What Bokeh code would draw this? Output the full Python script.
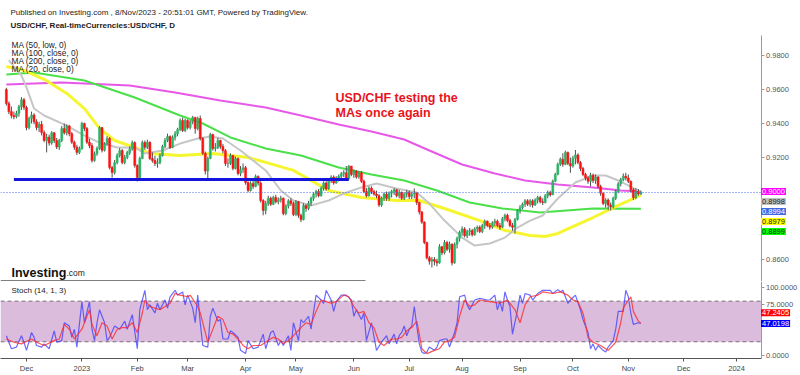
import pandas as pd
from bokeh.plotting import figure
from bokeh.models import (Range1d, FixedTicker, PrintfTickFormatter, Label, LinearAxis,
                          BoxAnnotation)
from bokeh.layouts import column
from bokeh.embed import file_html
from bokeh.resources import INLINE

# ---------------- data ----------------
start_date = "2022-11-21"
axis_end_date = "2024-01-31"
first_open = 0.9600

close = [
    0.9518, 0.9470, 0.9447, 0.9440, 0.9460, 0.9500, 0.9540, 0.9494, 0.9375, 0.9430,
    0.9450, 0.9410, 0.9376, 0.9395, 0.9347, 0.9300, 0.9320, 0.9285, 0.9345, 0.9300,
    0.9262, 0.9300, 0.9370, 0.9345, 0.9385, 0.9340, 0.9290, 0.9260, 0.9230, 0.9252,
    0.9400, 0.9370, 0.9290, 0.9270, 0.9182, 0.9222, 0.9253, 0.9376, 0.9242, 0.9280,
    0.9312, 0.9141, 0.9112, 0.9170, 0.9212, 0.9241, 0.9170, 0.9200, 0.9229, 0.9250,
    0.9288, 0.9153, 0.9082, 0.9194, 0.9288, 0.9260, 0.9290, 0.9194, 0.9182, 0.9165,
    0.9170, 0.9212, 0.9265, 0.9300, 0.9324, 0.9259, 0.9318, 0.9340, 0.9365, 0.9418,
    0.9359, 0.9418, 0.9376, 0.9410, 0.9435, 0.9370, 0.9430, 0.9312, 0.9225, 0.9120,
    0.9194, 0.9335, 0.9253, 0.9259, 0.9300, 0.9265, 0.9240, 0.9165, 0.9165, 0.9212,
    0.9135, 0.9194, 0.9106, 0.9130, 0.9140, 0.9053, 0.9006, 0.9047, 0.9030, 0.9088,
    0.9050, 0.8947, 0.8888, 0.8930, 0.8960, 0.8925, 0.8965, 0.8940, 0.8950, 0.8960,
    0.8870, 0.8915, 0.8945, 0.8930, 0.8865, 0.8940, 0.8860, 0.8835, 0.8918, 0.8900,
    0.8930, 0.8960, 0.8985, 0.9000, 0.8975, 0.9020, 0.9050, 0.9015, 0.9065, 0.9085,
    0.9050, 0.9080, 0.9090, 0.9105, 0.9110, 0.9075, 0.9150, 0.9100, 0.9120, 0.9085,
    0.9110, 0.9060, 0.9000, 0.8975, 0.9020, 0.9000, 0.8985, 0.8975, 0.8920, 0.8960,
    0.8985, 0.8960, 0.8990, 0.9000, 0.9010, 0.8975, 0.8995, 0.8960, 0.8985, 0.8995,
    0.8970, 0.8985, 0.8990, 0.8935, 0.8880, 0.8820, 0.8700, 0.8610, 0.8590, 0.8600,
    0.8590, 0.8580, 0.8675, 0.8640, 0.8700, 0.8660, 0.8690, 0.8580, 0.8690, 0.8725,
    0.8760, 0.8780, 0.8740, 0.8765, 0.8770, 0.8745, 0.8780, 0.8790, 0.8765, 0.8800,
    0.8825, 0.8800, 0.8790, 0.8815, 0.8825, 0.8800, 0.8790, 0.8840, 0.8860, 0.8830,
    0.8800, 0.8790, 0.8835, 0.8888, 0.8905, 0.8925, 0.8945, 0.8925, 0.8945, 0.8920,
    0.8950, 0.8965, 0.8940, 0.8935, 0.8975, 0.8995, 0.8980, 0.9060, 0.9100, 0.9160,
    0.9190, 0.9160, 0.9230, 0.9165, 0.9150, 0.9195, 0.9215, 0.9170, 0.9135, 0.9100,
    0.9080, 0.9060, 0.9095, 0.9065, 0.9085, 0.9030, 0.8990, 0.8930, 0.8950, 0.8920,
    0.8910, 0.8960, 0.9000, 0.9045, 0.9070, 0.9090, 0.9080, 0.9060, 0.9010, 0.8965,
    0.9000, 0.8985, 0.8994,
]
high = [
    0.9610, 0.9530, 0.9500, 0.9470, 0.9475, 0.9510, 0.9555, 0.9550, 0.9505, 0.9440,
    0.9470, 0.9460, 0.9425, 0.9410, 0.9415, 0.9360, 0.9340, 0.9335, 0.9355, 0.9350,
    0.9315, 0.9310, 0.9385, 0.9400, 0.9395, 0.9392, 0.9350, 0.9300, 0.9275, 0.9265,
    0.9410, 0.9405, 0.9380, 0.9310, 0.9285, 0.9235, 0.9265, 0.9385, 0.9380, 0.9290,
    0.9325, 0.9320, 0.9150, 0.9185, 0.9225, 0.9255, 0.9250, 0.9215, 0.9240, 0.9265,
    0.9300, 0.9295, 0.9160, 0.9205, 0.9300, 0.9300, 0.9305, 0.9295, 0.9230, 0.9210,
    0.9195, 0.9225, 0.9275, 0.9315, 0.9340, 0.9330, 0.9330, 0.9355, 0.9375, 0.9430,
    0.9435, 0.9428, 0.9425, 0.9420, 0.9445, 0.9440, 0.9440, 0.9447, 0.9320, 0.9235,
    0.9205, 0.9345, 0.9340, 0.9285, 0.9315, 0.9305, 0.9280, 0.9250, 0.9195, 0.9225,
    0.9215, 0.9205, 0.9200, 0.9150, 0.9165, 0.9150, 0.9060, 0.9060, 0.9070, 0.9100,
    0.9095, 0.9060, 0.8955, 0.8945, 0.8975, 0.8970, 0.8975, 0.8980, 0.8965, 0.8975,
    0.8965, 0.8925, 0.8955, 0.8960, 0.8940, 0.8950, 0.8945, 0.8870, 0.8930, 0.8925,
    0.8945, 0.8970, 0.8995, 0.9010, 0.9015, 0.9030, 0.9060, 0.9060, 0.9075, 0.9095,
    0.9095, 0.9090, 0.9100, 0.9115, 0.9125, 0.9150, 0.9155, 0.9150, 0.9130, 0.9125,
    0.9120, 0.9120, 0.9070, 0.9020, 0.9030, 0.9030, 0.9010, 0.9005, 0.8985, 0.8970,
    0.8995, 0.9000, 0.9000, 0.9010, 0.9020, 0.9015, 0.9010, 0.9000, 0.8995, 0.9010,
    0.9005, 0.8995, 0.9018, 0.8995, 0.8940, 0.8885, 0.8825, 0.8705, 0.8620, 0.8615,
    0.8615, 0.8605, 0.8690, 0.8680, 0.8715, 0.8710, 0.8705, 0.8695, 0.8700, 0.8735,
    0.8770, 0.8795, 0.8790, 0.8775, 0.8785, 0.8780, 0.8790, 0.8800, 0.8800, 0.8810,
    0.8835, 0.8830, 0.8815, 0.8825, 0.8840, 0.8835, 0.8815, 0.8850, 0.8870, 0.8870,
    0.8840, 0.8815, 0.8845, 0.8895, 0.8920, 0.8935, 0.8955, 0.8955, 0.8955, 0.8955,
    0.8960, 0.8975, 0.8975, 0.8960, 0.8985, 0.9005, 0.9005, 0.9070, 0.9110, 0.9170,
    0.9200, 0.9225, 0.9240, 0.9235, 0.9200, 0.9210, 0.9244, 0.9225, 0.9180, 0.9145,
    0.9110, 0.9090, 0.9110, 0.9105, 0.9100, 0.9090, 0.9040, 0.8995, 0.8960, 0.8960,
    0.8935, 0.8970, 0.9010, 0.9055, 0.9080, 0.9106, 0.9110, 0.9100, 0.9065, 0.9020,
    0.9020, 0.9015, 0.9005,
]
low = [
    0.9505, 0.9455, 0.9430, 0.9425, 0.9430, 0.9440, 0.9480, 0.9480, 0.9360, 0.9365,
    0.9400, 0.9395, 0.9360, 0.9350, 0.9330, 0.9290, 0.9230, 0.9270, 0.9275, 0.9285,
    0.9250, 0.9245, 0.9290, 0.9335, 0.9330, 0.9325, 0.9280, 0.9245, 0.9215, 0.9220,
    0.9245, 0.9355, 0.9280, 0.9255, 0.9170, 0.9175, 0.9210, 0.9245, 0.9230, 0.9235,
    0.9270, 0.9130, 0.9082, 0.9100, 0.9160, 0.9200, 0.9160, 0.9160, 0.9190, 0.9215,
    0.9240, 0.9140, 0.9059, 0.9075, 0.9190, 0.9245, 0.9250, 0.9185, 0.9170, 0.9150,
    0.9140, 0.9160, 0.9205, 0.9255, 0.9290, 0.9250, 0.9255, 0.9300, 0.9325, 0.9355,
    0.9350, 0.9350, 0.9365, 0.9365, 0.9395, 0.9340, 0.9360, 0.9300, 0.9215, 0.9100,
    0.9065, 0.9190, 0.9240, 0.9235, 0.9250, 0.9250, 0.9225, 0.9150, 0.9140, 0.9155,
    0.9125, 0.9130, 0.9095, 0.9090, 0.9110, 0.9040, 0.8995, 0.9000, 0.9015, 0.9025,
    0.9035, 0.8935, 0.8860, 0.8865, 0.8915, 0.8915, 0.8920, 0.8930, 0.8925, 0.8935,
    0.8860, 0.8860, 0.8900, 0.8915, 0.8855, 0.8855, 0.8845, 0.8820, 0.8830, 0.8880,
    0.8890, 0.8915, 0.8945, 0.8965, 0.8965, 0.8970, 0.9005, 0.9005, 0.9010, 0.9050,
    0.9040, 0.9045, 0.9060, 0.9075, 0.9085, 0.9065, 0.9070, 0.9090, 0.9080, 0.9075,
    0.9075, 0.9050, 0.8990, 0.8965, 0.8970, 0.8985, 0.8975, 0.8960, 0.8910, 0.8910,
    0.8945, 0.8945, 0.8945, 0.8965, 0.8980, 0.8965, 0.8960, 0.8950, 0.8950, 0.8965,
    0.8955, 0.8955, 0.8960, 0.8920, 0.8865, 0.8810, 0.8690, 0.8600, 0.8570, 0.8553,
    0.8565, 0.8560, 0.8575, 0.8625, 0.8630, 0.8650, 0.8640, 0.8565, 0.8575, 0.8665,
    0.8705, 0.8740, 0.8730, 0.8725, 0.8740, 0.8735, 0.8740, 0.8760, 0.8755, 0.8755,
    0.8780, 0.8790, 0.8775, 0.8780, 0.8795, 0.8790, 0.8775, 0.8785, 0.8825, 0.8820,
    0.8790, 0.8770, 0.8753, 0.8830, 0.8870, 0.8895, 0.8910, 0.8915, 0.8910, 0.8905,
    0.8915, 0.8930, 0.8930, 0.8920, 0.8930, 0.8960, 0.8970, 0.8980, 0.9055, 0.9095,
    0.9150, 0.9145, 0.9155, 0.9155, 0.9110, 0.9140, 0.9160, 0.9160, 0.9120, 0.9090,
    0.9065, 0.9045, 0.9030, 0.9050, 0.9045, 0.9020, 0.8975, 0.8920, 0.8905, 0.8890,
    0.8888, 0.8900, 0.8950, 0.8990, 0.9030, 0.9060, 0.9065, 0.9050, 0.8995, 0.8950,
    0.8955, 0.8975, 0.8980,
]

# moving averages, sampled along the drawn curves (trading-day number, value)
ma20_day = [1, 6, 8, 11, 15, 24, 31, 37, 44, 51, 55, 62, 69, 76, 81, 86, 93, 98, 103,
            109, 114, 121, 128, 134, 141, 147, 155, 163, 168, 174, 181, 186, 192, 198,
            203, 208, 213, 219, 226, 233, 238, 243, 252]
ma20 = [0.9771, 0.9682, 0.9612, 0.9488, 0.9447, 0.9388, 0.9329, 0.9288, 0.9259, 0.9259,
        0.9224, 0.9241, 0.9282, 0.9312, 0.9324, 0.9312, 0.9241, 0.9182, 0.9124, 0.9006,
        0.8947, 0.8918, 0.8947, 0.8988, 0.9024, 0.9047, 0.9018, 0.8994, 0.8929, 0.8829,
        0.8729, 0.8682, 0.8694, 0.8729, 0.8788, 0.8829, 0.8859, 0.8959, 0.9053, 0.9094,
        0.9094, 0.9065, 0.8998]
ma50_day = [0, 6, 15, 24, 31, 37, 43, 51, 57, 69, 82, 96, 103, 114, 121, 128, 141, 155,
            164, 174, 188, 198, 208, 214, 219, 233, 243, 252]
ma50 = [0.9735, 0.9718, 0.9660, 0.9577, 0.9488, 0.9371, 0.9300, 0.9259, 0.9224, 0.9212,
        0.9224, 0.9200, 0.9171, 0.9124, 0.9065, 0.9006, 0.8965, 0.8947, 0.8947, 0.8900,
        0.8829, 0.8771, 0.8741, 0.8735, 0.8753, 0.8847, 0.8918, 0.8979]
ma100_day = [0, 11, 31, 51, 69, 78, 89, 103, 117, 132, 145, 158, 171, 184, 197, 212, 233, 252]
ma100 = [0.9688, 0.9700, 0.9653, 0.9553, 0.9447, 0.9400, 0.9318, 0.9253, 0.9212, 0.9141,
         0.9100, 0.9065, 0.9006, 0.8935, 0.8900, 0.8876, 0.8900, 0.8899]
ma200_day = [0, 22, 49, 67, 85, 103, 117, 132, 145, 158, 168, 181, 194, 206, 219, 233, 244, 252]
ma200 = [0.9629, 0.9641, 0.9624, 0.9582, 0.9535, 0.9494, 0.9447, 0.9394, 0.9353, 0.9306,
         0.9241, 0.9159, 0.9106, 0.9065, 0.9041, 0.9024, 0.9006, 0.9000]

support_level = 0.9071
support_from = "2022-11-24"
support_to = "2023-05-30"

# stochastic (14, 1, 3): %K blue, %D red
stoch_k_day = [0, 2, 4, 6, 7, 8, 10, 11, 12, 14, 15, 17, 19, 20, 22, 23, 25, 26, 27, 28,
               30, 31, 33, 34, 35, 36, 37, 39, 40, 41, 43, 45, 47, 48, 50, 52, 53, 55, 56, 57,
               59, 60, 61, 63, 64, 65, 67, 68, 70, 71, 72, 74, 75, 76, 77, 78, 80, 81, 82, 84,
               85, 86, 88, 89, 90, 92, 93, 95, 96, 98, 100, 102, 103, 105, 106, 108, 109, 110,
               112, 113, 114, 116, 117, 118, 120, 121, 123, 125, 126, 127, 129, 130, 131, 133,
               135, 137, 138, 139, 141, 142, 143, 145, 147, 149, 151, 152, 154, 155, 156, 157,
               158, 159, 160, 161, 162, 163, 164, 165, 166, 167, 168, 170, 171, 172, 174, 175,
               176, 178, 179, 180, 182, 183, 184, 186, 188, 191, 192, 194, 195, 196, 197, 198,
               199, 200, 201, 203, 204, 205, 206, 208, 209, 211, 213, 216, 217, 219, 220, 221,
               223, 224, 226, 228, 229, 231, 232, 233, 234, 235, 237, 238, 239, 241, 242, 243,
               245, 246, 247, 248, 249, 251, 252]
stoch_k = [28.9, 9.7, 12.1, 28.9, 19.3, 7.3, 33.7, 26.5, 14.5, 12.1, 16.9, 9.7, 36.1, 19.3,
           21.7, 48.1, 43.3, 26.5, 38.5, 12.1, 79.3, 48.1, 79.3, 38.5, 21.7, 48.1, 67.3, 48.1,
           21.7, 26.5, 43.3, 38.5, 50.5, 38.5, 60.1, 9.7, 67.3, 96.1, 67.3, 74.5, 62.5, 76.9,
           67.3, 81.7, 69.7, 86.5, 96.1, 88.9, 93.7, 74.5, 88.9, 69.7, 48.1, 88.9, 48.1, 14.5,
           12.1, 57.7, 69.7, 50.5, 52.9, 24.1, 24.1, 36.1, 33.7, 26.5, 7.3, 2.5, 21.7, 9.7,
           12.1, 31.3, 9.7, 33.7, 36.1, 14.5, 21.7, 14.5, 28.9, 7.3, 48.1, 21.7, 52.9, 48.1,
           57.7, 38.5, 88.9, 81.7, 76.9, 96.1, 81.7, 64.9, 79.3, 88.9, 88.9, 81.7, 57.7, 67.3,
           52.9, 62.5, 21.7, 48.1, 7.3, 19.3, 28.9, 16.9, 31.3, 16.9, 28.9, 33.7, 43.3, 28.9,
           38.5, 43.3, 72.1, 43.3, 16.9, 4.9, 2.5, 4.9, 12.1, 7.3, 12.1, 21.7, 24.1, 24.1,
           12.1, 33.7, 48.1, 86.5, 88.9, 74.5, 67.3, 81.7, 84.1, 81.7, 81.7, 88.9, 67.3, 79.3,
           64.9, 93.7, 81.7, 72.1, 31.3, 67.3, 88.9, 76.9, 91.3, 88.9, 81.7, 91.3, 96.1, 96.1,
           91.3, 97.1, 93.7, 96.1, 76.9, 81.7, 88.9, 67.3, 52.9, 33.7, 9.7, 16.9, 7.3, 14.5,
           7.3, 4.9, 12.1, 21.7, 38.5, 64.9, 64.9, 96.1, 86.5, 62.5, 45.7, 48.1, 47.0198]
stoch_d_day = [0, 3, 6, 10, 12, 15, 19, 21, 23, 25, 27, 30, 33, 34, 36, 38, 40, 42, 44, 46,
               48, 50, 52, 54, 55, 57, 59, 61, 64, 65, 67, 69, 72, 73, 76, 77, 79, 80, 82, 84,
               86, 88, 90, 92, 94, 96, 98, 101, 104, 106, 108, 110, 112, 114, 117, 119, 121,
               123, 125, 127, 129, 131, 134, 136, 138, 140, 142, 144, 146, 148, 150, 153, 155,
               157, 159, 161, 163, 164, 165, 167, 170, 172, 174, 176, 178, 180, 182, 184, 186,
               188, 192, 196, 199, 202, 204, 206, 208, 211, 213, 217, 220, 223, 225, 227, 229,
               230, 231, 233, 236, 238, 239, 242, 244, 245, 247, 248, 249, 251, 252]
stoch_d = [24.1, 19.3, 16.9, 24.1, 19.3, 14.5, 21.7, 24.1, 45.7, 38.5, 24.1, 38.5, 67.3,
           45.7, 28.9, 48.1, 43.3, 24.1, 38.5, 40.9, 40.9, 48.1, 33.7, 62.5, 81.7, 72.1, 69.7,
           67.3, 74.5, 76.9, 91.3, 88.9, 86.5, 88.9, 72.1, 62.5, 33.7, 19.3, 38.5, 57.7, 52.9,
           33.7, 31.3, 24.1, 14.5, 9.7, 14.5, 14.5, 21.7, 26.5, 24.1, 16.9, 21.7, 28.9, 40.9,
           48.1, 45.7, 64.9, 81.7, 79.3, 76.9, 79.3, 88.9, 86.5, 72.1, 62.5, 64.9, 48.1, 40.9,
           19.3, 14.5, 24.1, 24.1, 26.5, 36.1, 40.9, 50.5, 31.3, 9.7, 2.5, 7.3, 9.7, 19.3, 21.7,
           26.5, 57.7, 81.7, 72.1, 74.5, 81.7, 79.3, 76.9, 81.7, 67.3, 48.1, 74.5, 86.5, 88.9,
           93.7, 91.3, 93.7, 88.9, 81.7, 79.3, 62.5, 45.7, 26.5, 19.3, 14.5, 9.7, 7.3, 19.3,
           48.1, 69.7, 81.7, 86.5, 64.9, 50.5, 47.2405]

price_ticks = [0.86, 0.92, 0.94, 0.96, 0.98]
stoch_ticks = [0, 75, 100]
stoch_band = (20, 80)

# ---------------- layout calibration (picture pixels) ----------------
W, H1, H2 = 800, 281, 94
PANE_TOP, AXIS_PX, SEP_END_PX = 35, 760.5, 365


def bx(rx):                  # picture x -> bar number
    return (rx - 5.86) / 2.518


def py(ry):                  # picture y -> price (upper pane)
    return 0.98 - (ry - 55) / 1700.0


def sy(ry):                  # picture y -> stoch value (lower pane)
    return (356.7 - ry) / 0.694


X_START, X_END, X_AXIS = bx(0), bx(W), bx(AXIS_PX)
FONT = "Liberation Sans"
GREEN, RED, WICK = "#29b466", "#ff1010", "#4f4f4f"

dates = pd.bdate_range(start_date, axis_end_date)
day_of = {d.strftime("%Y-%m-%d"): k for k, d in enumerate(dates)}
bars = list(range(len(close)))
opens = [first_open] + close[:-1]
body_top = [max(o, c) for o, c in zip(opens, close)]
body_bot = [min(o, c) for o, c in zip(opens, close)]
body_col = [GREEN if c >= o else RED for o, c in zip(opens, close)]

month_ticks, month_labels = [], {}
for k in range(1, len(dates)):
    if dates[k].month != dates[k - 1].month:
        month_ticks.append(k)
        month_labels[k] = str(dates[k].year) if dates[k].month == 1 else dates[k].strftime("%b")


def style_axis(ax, line="#9a9a9a", text="#555555"):
    ax.axis_line_color = line
    ax.major_tick_line_color = line
    ax.minor_tick_line_color = None
    ax.major_tick_in = 0
    ax.major_tick_out = 3
    ax.major_label_standoff = 2
    ax.major_label_text_font = FONT
    ax.major_label_text_font_size = "7.5px"
    ax.major_label_text_color = text


def lab(p, x, y, text, size="8px", color="#222222", bold=False, **kw):
    p.add_layout(Label(x=x, y=y, text=text, text_font=FONT, text_font_size=size,
                       text_color=color, text_font_style="bold" if bold else "normal",
                       text_baseline=kw.pop("baseline", "middle"),
                       text_align="left", **kw))


# ---------------- price pane ----------------
p1 = figure(width=W, height=H1, x_range=Range1d(X_START, X_END),
            y_range=Range1d(py(H1), py(0)), output_backend="svg", toolbar_location=None,
            x_axis_location=None, y_axis_location=None,
            min_border_left=0, min_border_right=0, min_border_top=0, min_border_bottom=0,
            outline_line_color=None, background_fill_color="white", border_fill_color="white")
p1.xgrid.visible = False
p1.ygrid.visible = False
ya = LinearAxis(fixed_location=X_AXIS, ticker=FixedTicker(ticks=price_ticks),
                formatter=PrintfTickFormatter(format="%.4f"), bounds=(py(H1), py(PANE_TOP)))
style_axis(ya)
p1.add_layout(ya, "right")

p1.line(ma200_day, ma200, line_color="#e858e8", line_width=2)
p1.line(ma100_day, ma100, line_color="#4ae04a", line_width=2)
p1.line(ma50_day, ma50, line_color="#f6f630", line_width=3)
p1.line(ma20_day, ma20, line_color="#c6c6c6", line_width=2)

p1.segment(x0=bars, y0=low, x1=bars, y1=high, line_color=WICK, line_width=1)
p1.vbar(x=bars, width=0.8, top=body_top, bottom=body_bot,
        fill_color=body_col, line_color=body_col, line_width=0.5)

p1.segment(x0=[day_of[support_from]], y0=[support_level], x1=[day_of[support_to]],
           y1=[support_level], line_color="#1414dc", line_width=3)
p1.segment(x0=[X_START], y0=[close[-1]], x1=[X_AXIS], y1=[close[-1]],
           line_color="#4a6cf0", line_width=1, line_dash="1 2")
p1.segment(x0=[X_START], y0=[py(H1 - 0.5)], x1=[bx(SEP_END_PX)], y1=[py(H1 - 0.5)],
           line_color="#555555", line_width=1.5)

lab(p1, bx(10), py(11.5),
    "Published on Investing.com , 8/Nov/2023 - 20:51:01 GMT, Powered by TradingView.",
    size="8px")
lab(p1, bx(10), py(24.5), "USD/CHF, Real-timeCurrencies:USD/CHF, D", bold=True)
for k, t in enumerate(["MA (50, low, 0)", "MA (100, close, 0)",
                       "MA (200, close, 0)", "MA (20, close, 0)"]):
    lab(p1, bx(11), py(44.3 + 8.2 * k), t, size="8.3px")
lab(p1, bx(335), py(97), "USD/CHF testing the", size="12.5px", color="#e8141c", bold=True)
lab(p1, bx(335), py(112.5), "MAs once again", size="12.5px", color="#e8141c", bold=True)
lab(p1, bx(11), py(272), "Investing", size="12.5px", color="#111111", bold=True,
    baseline="alphabetic")
lab(p1, bx(66), py(272), ".com", size="8.5px", color="#222222", baseline="alphabetic")

# stacked last-value boxes on the price scale
price_boxes = sorted([(ma200[-1], "#ff00ff", "white"), (ma20[-1], "#c0c0c0", "#222222"),
                      (close[-1], "#4169e1", "white"), (ma50[-1], "#ffff00", "#222222"),
                      (ma100[-1], "#00ff00", "#222222")], key=lambda b: -b[0])
prev = None
for v, bg, fg in price_boxes:
    yv = v if prev is None else min(v, prev - 10 / 1700.0)
    prev = yv
    lab(p1, X_AXIS, yv, "%.4f" % v, size="7.5px", color=fg, background_fill_color=bg,
        padding=1, text_line_height=1.0)

# ---------------- stochastic pane ----------------
p2 = figure(width=W, height=H2, x_range=p1.x_range, y_range=Range1d(sy(360), sy(281)),
            output_backend="svg", toolbar_location=None,
            x_axis_location="below", y_axis_location=None,
            min_border_left=0, min_border_right=0, min_border_top=0, min_border_bottom=15,
            outline_line_color=None, background_fill_color="white", border_fill_color="white")
p2.xgrid.visible = False
p2.ygrid.visible = False
p2.add_layout(BoxAnnotation(bottom=stoch_band[0], top=stoch_band[1], right=X_AXIS,
                            fill_color="#dcbcdc", fill_alpha=1.0, line_color=None,
                            level="underlay"))
for lv in stoch_band:
    p2.segment(x0=[X_START], y0=[lv], x1=[X_AXIS], y1=[lv], line_color="#7a6a7a",
               line_width=1, line_dash="4 3")
p2.line(stoch_k_day, stoch_k, line_color="#3a3aff", line_alpha=0.75, line_width=1.2)
p2.line(stoch_d_day, stoch_d, line_color="#ff2a2a", line_alpha=0.8, line_width=1.2)

xa = p2.xaxis[0]
xa.ticker = FixedTicker(ticks=month_ticks)
xa.major_label_overrides = month_labels
xa.bounds = (X_START, X_AXIS)
style_axis(xa, line="#555555", text="#444444")

sa = LinearAxis(fixed_location=X_AXIS, ticker=FixedTicker(ticks=stoch_ticks),
                formatter=PrintfTickFormatter(format="%.4f"))
style_axis(sa)
p2.add_layout(sa, "right")

lab(p2, bx(11), sy(290.5), "Stoch (14, 1, 3)")
stoch_boxes = sorted([(stoch_d[-1], "#ff0000"), (stoch_k[-1], "#0000ff")],
                     key=lambda b: b[0])
prev = None
for v, bg in stoch_boxes:
    yv = v if prev is None else max(v, prev + 11 / 0.694)
    prev = yv
    lab(p2, X_AXIS, yv, "%.4f" % v, size="7.5px", color="white", background_fill_color=bg,
        padding=1, text_line_height=1.0)

layout = column(p1, p2, spacing=0)
open("out.html", "w").write(file_html(layout, INLINE))
